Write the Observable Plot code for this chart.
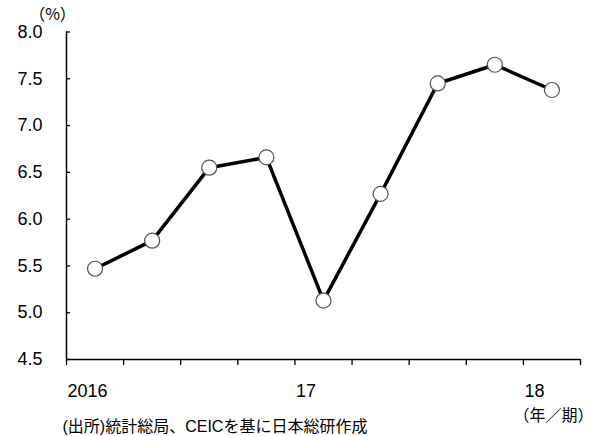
<!DOCTYPE html>
<html>
<head>
<meta charset="utf-8">
<script src="https://cdn.jsdelivr.net/npm/d3@7"></script>
<script src="https://cdn.jsdelivr.net/npm/@observablehq/plot@0.6"></script>
<style>
  html, body { margin: 0; padding: 0; background: #fff; }
  #chart svg { display: block; }
</style>
</head>
<body>
<div id="chart"></div>
<script>
const quarters = ["2016Q1","2016Q2","2016Q3","2016Q4","2017Q1","2017Q2","2017Q3","2017Q4","2018Q1"];
const values = [5.47, 5.77, 6.55, 6.66, 5.13, 6.27, 7.45, 7.65, 7.38];
const yearLabels = ["2016", "17", "18"];
const yearStarts = ["2016Q1", "2017Q1", "2018Q1"];
const yTicks = [4.5, 5.0, 5.5, 6.0, 6.5, 7.0, 7.5, 8.0];
const unitLabel = "（%）";
const xUnitLabel = "（年／期）";
const caption = "(出所)統計総局、CEICを基に日本総研作成";

const data = quarters.map((q, i) => ({q, i, v: values[i]}));
const boundaries = d3.range(quarters.length + 1).map(k => k - 0.5);
const years = yearLabels.map((t, j) => ({t, i: quarters.indexOf(yearStarts[j]) - 0.5}));

const font = "'Liberation Sans', 'Noto Sans CJK JP', sans-serif";
const cjk = "'Noto Sans CJK JP', sans-serif";

const chart = Plot.plot({
  width: 597,
  height: 436,
  marginTop: 31.5,
  marginBottom: 77,
  marginLeft: 66,
  marginRight: 17,
  style: {fontFamily: font, fontSize: "18px", color: "#000", background: "#fff"},
  x: {domain: [-0.5, quarters.length - 0.5], label: null},
  y: {domain: [4.5, 8.0], label: null},
  marks: [
    Plot.axisY({ticks: yTicks, tickFormat: d3.format(".1f"), tickSize: -4, tickPadding: 28, fontSize: 18, stroke: "#000", strokeWidth: 1.3, label: null}),
    Plot.axisX({ticks: boundaries, tickSize: 6, tickFormat: () => "", stroke: "#000", strokeWidth: 1.3, label: null}),
    Plot.ruleX([-0.5], {stroke: "#000", strokeWidth: 1.5}),
    Plot.ruleY([4.5], {stroke: "#000", strokeWidth: 1.5}),
    Plot.line(data, {x: "i", y: "v", stroke: "#000", strokeWidth: 3.5}),
    Plot.dot(data, {x: "i", y: "v", r: 7.5, fill: "#fff", stroke: "#555", strokeWidth: 1.2}),
    Plot.text(years, {x: "i", y: () => 4.5, text: "t", textAnchor: "start", dx: 1, dy: 32, fontSize: 18}),
    Plot.text([unitLabel], {frameAnchor: "top-left", dx: -14, dy: -23, textAnchor: "middle", fontSize: 16, fontFamily: cjk}),
    Plot.text([xUnitLabel], {frameAnchor: "bottom-right", dx: 13, dy: 61, textAnchor: "end", fontSize: 16, fontFamily: cjk}),
    Plot.text([caption], {frameAnchor: "bottom-left", dx: -4, dy: 72, textAnchor: "start", fontSize: 16})
  ]
});
document.getElementById("chart").appendChild(chart);
</script>
</body>
</html>
